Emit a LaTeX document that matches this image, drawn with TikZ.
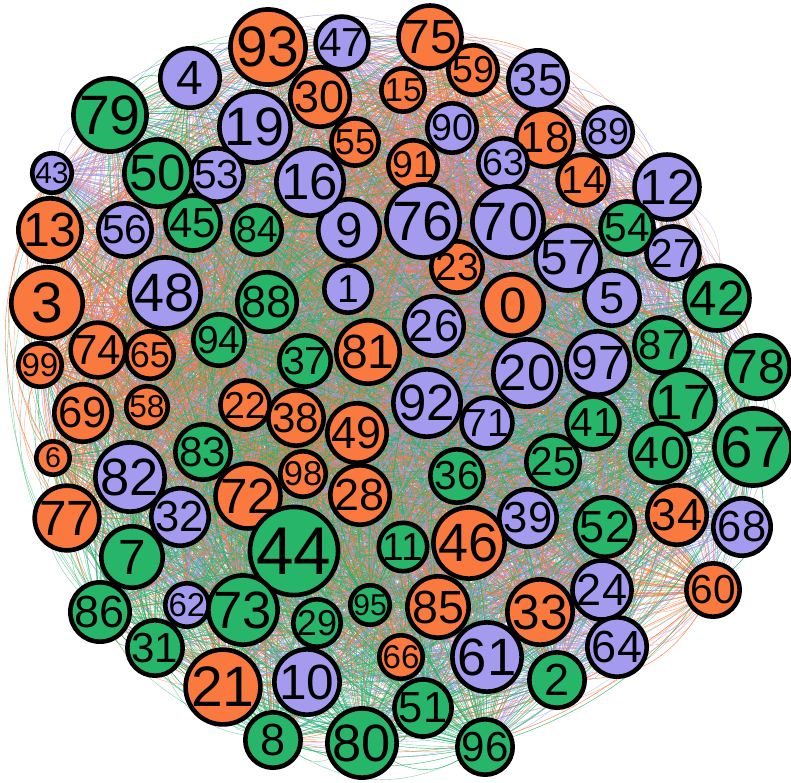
\documentclass[tikz,border=0pt]{standalone}
\usepackage{fontspec}
\setmainfont{Liberation Sans}
\usetikzlibrary{backgrounds}

\definecolor{vorange}{RGB}{249,121,63}
\definecolor{vpurple}{RGB}{164,154,238}
\definecolor{vgreen}{RGB}{39,181,105}

\newcommand{\nodefont}[1]{\fontsize{\fpeval{1.5*#1}}{\fpeval{1.5*#1}}\selectfont}

\begin{document}
\begin{tikzpicture}[x=1pt, y=-1pt,
    vtx/.style={circle, draw=black, line width=4.6pt, inner sep=0pt, minimum size=2*#1pt-4.6pt, font=\nodefont{#1}},
    ora/.style={fill=vorange}, pur/.style={fill=vpurple}, grn/.style={fill=vgreen},
    edg/.style={line width=0.42pt, opacity=0.58}]

    \useasboundingbox (0,0) rectangle (791,782);

    % orange vertices
    \node[vtx=33, ora] (n0) at (513,305) {0};
    \node[vtx=38, ora] (n3) at (47,303) {3};
    \node[vtx=19, ora] (n6) at (53,458) {6};
    \node[vtx=32, ora] (n13) at (50,230) {13};
    \node[vtx=26, ora] (n14) at (583,180) {14};
    \node[vtx=22, ora] (n15) at (403,90) {15};
    \node[vtx=29, ora] (n18) at (545,138) {18};
    \node[vtx=38, ora] (n21) at (223,687) {21};
    \node[vtx=25, ora] (n22) at (245,405) {22};
    \node[vtx=26, ora] (n23) at (457,267) {23};
    \node[vtx=30, ora] (n28) at (360,495) {28};
    \node[vtx=30, ora] (n30) at (320,97) {30};
    \node[vtx=33, ora] (n33) at (540,612) {33};
    \node[vtx=30, ora] (n34) at (677,515) {34};
    \node[vtx=28, ora] (n38) at (296,418) {38};
    \node[vtx=36, ora] (n46) at (469,543) {46};
    \node[vtx=30, ora] (n49) at (357,433) {49};
    \node[vtx=24, ora] (n55) at (355,142) {55};
    \node[vtx=21, ora] (n58) at (147,407) {58};
    \node[vtx=25, ora] (n59) at (473,70) {59};
    \node[vtx=27, ora] (n60) at (713,590) {60};
    \node[vtx=24, ora] (n65) at (150,355) {65};
    \node[vtx=22, ora] (n66) at (401,657) {66};
    \node[vtx=29, ora] (n69) at (83,413) {69};
    \node[vtx=33, ora] (n72) at (248,496) {72};
    \node[vtx=28, ora] (n74) at (98,350) {74};
    \node[vtx=32, ora] (n75) at (430,37) {75};
    \node[vtx=33, ora] (n77) at (67,518) {77};
    \node[vtx=32, ora] (n81) at (368,352) {81};
    \node[vtx=31, ora] (n85) at (438,607) {85};
    \node[vtx=25, ora] (n91) at (413,165) {91};
    \node[vtx=38, ora] (n93) at (268,47) {93};
    \node[vtx=23, ora] (n98) at (303,474) {98};
    \node[vtx=22, ora] (n99) at (40,365) {99};

    % purple vertices
    \node[vtx=26, pur] (n1) at (348,289) {1};
    \node[vtx=32, pur] (n4) at (190,78) {4};
    \node[vtx=30, pur] (n5) at (612,298) {5};
    \node[vtx=33, pur] (n9) at (349,230) {9};
    \node[vtx=33, pur] (n10) at (307,682) {10};
    \node[vtx=33, pur] (n12) at (667,187) {12};
    \node[vtx=34, pur] (n16) at (310,182) {16};
    \node[vtx=36, pur] (n19) at (255,127) {19};
    \node[vtx=34, pur] (n20) at (527,373) {20};
    \node[vtx=30, pur] (n24) at (602,590) {24};
    \node[vtx=30, pur] (n26) at (434,326) {26};
    \node[vtx=27, pur] (n27) at (673,253) {27};
    \node[vtx=29, pur] (n32) at (180,517) {32};
    \node[vtx=30, pur] (n35) at (538,80) {35};
    \node[vtx=29, pur] (n39) at (528,518) {39};
    \node[vtx=20, pur] (n43) at (52,173) {43};
    \node[vtx=27, pur] (n47) at (342,43) {47};
    \node[vtx=36, pur] (n48) at (165,293) {48};
    \node[vtx=27, pur] (n53) at (217,175) {53};
    \node[vtx=27, pur] (n56) at (125,230) {56};
    \node[vtx=33, pur] (n57) at (568,258) {57};
    \node[vtx=35, pur] (n61) at (487,657) {61};
    \node[vtx=22, pur] (n62) at (187,605) {62};
    \node[vtx=25, pur] (n63) at (503,163) {63};
    \node[vtx=30, pur] (n64) at (617,647) {64};
    \node[vtx=29, pur] (n68) at (742,527) {68};
    \node[vtx=36, pur] (n70) at (508,222) {70};
    \node[vtx=26, pur] (n71) at (487,423) {71};
    \node[vtx=37, pur] (n76) at (423,221) {76};
    \node[vtx=35, pur] (n82) at (130,477) {82};
    \node[vtx=25, pur] (n89) at (608,132) {89};
    \node[vtx=25, pur] (n90) at (452,128) {90};
    \node[vtx=34, pur] (n92) at (427,403) {92};
    \node[vtx=32, pur] (n97) at (598,363) {97};

    % green vertices
    \node[vtx=30, grn] (n2) at (557,680) {2};
    \node[vtx=33, grn] (n7) at (132,557) {7};
    \node[vtx=30, grn] (n8) at (273,740) {8};
    \node[vtx=26, grn] (n11) at (403,547) {11};
    \node[vtx=33, grn] (n17) at (683,402) {17};
    \node[vtx=27, grn] (n25) at (553,462) {25};
    \node[vtx=24, grn] (n29) at (317,623) {29};
    \node[vtx=28, grn] (n31) at (155,648) {31};
    \node[vtx=27, grn] (n36) at (457,476) {36};
    \node[vtx=26, grn] (n37) at (305,361) {37};
    \node[vtx=30, grn] (n40) at (660,453) {40};
    \node[vtx=27, grn] (n41) at (593,423) {41};
    \node[vtx=33, grn] (n42) at (717,298) {42};
    \node[vtx=45, grn] (n44) at (294,551) {44};
    \node[vtx=28, grn] (n45) at (193,223) {45};
    \node[vtx=34, grn] (n50) at (158,173) {50};
    \node[vtx=29, grn] (n51) at (423,708) {51};
    \node[vtx=30, grn] (n52) at (605,527) {52};
    \node[vtx=27, grn] (n54) at (627,228) {54};
    \node[vtx=39, grn] (n67) at (753,447) {67};
    \node[vtx=35, grn] (n73) at (243,610) {73};
    \node[vtx=32, grn] (n78) at (758,367) {78};
    \node[vtx=37, grn] (n79) at (110,115) {79};
    \node[vtx=35, grn] (n80) at (362,743) {80};
    \node[vtx=28, grn] (n83) at (203,452) {83};
    \node[vtx=25, grn] (n84) at (257,230) {84};
    \node[vtx=30, grn] (n86) at (100,612) {86};
    \node[vtx=28, grn] (n87) at (662,345) {87};
    \node[vtx=30, grn] (n88) at (267,302) {88};
    \node[vtx=26, grn] (n94) at (219,340) {94};
    \node[vtx=20, grn] (n95) at (370,605) {95};
    \node[vtx=28, grn] (n96) at (485,747) {96};

    % edges, coloured by their source vertex
    \pgfmathsetseed{4217}
    \begin{scope}[on background layer]
        \foreach \i/\c in {0/vorange,1/vpurple,2/vgreen,3/vorange,4/vpurple,5/vpurple,6/vorange,7/vgreen,8/vgreen,9/vpurple,
                           10/vpurple,11/vgreen,12/vpurple,13/vorange,14/vorange,15/vorange,16/vpurple,17/vgreen,18/vorange,19/vpurple,
                           20/vpurple,21/vorange,22/vorange,23/vorange,24/vpurple,25/vgreen,26/vpurple,27/vpurple,28/vorange,29/vgreen,
                           30/vorange,31/vgreen,32/vpurple,33/vorange,34/vorange,35/vpurple,36/vgreen,37/vgreen,38/vorange,39/vpurple,
                           40/vgreen,41/vgreen,42/vgreen,43/vpurple,44/vgreen,45/vgreen,46/vorange,47/vpurple,48/vpurple,49/vorange,
                           50/vgreen,51/vgreen,52/vgreen,53/vpurple,54/vgreen,55/vorange,56/vpurple,57/vpurple,58/vorange,59/vorange,
                           60/vorange,61/vpurple,62/vpurple,63/vpurple,64/vpurple,65/vorange,66/vorange,67/vgreen,68/vpurple,69/vorange,
                           70/vpurple,71/vpurple,72/vorange,73/vgreen,74/vorange,75/vorange,76/vpurple,77/vorange,78/vgreen,79/vgreen,
                           80/vgreen,81/vorange,82/vpurple,83/vgreen,84/vgreen,85/vorange,86/vgreen,87/vgreen,88/vgreen,89/vpurple,
                           90/vpurple,91/vorange,92/vpurple,93/vorange,94/vgreen,95/vgreen,96/vgreen,97/vpurple,98/vorange,99/vorange}
            \foreach \k in {1,...,88} {
                \pgfmathrandominteger{\j}{0}{99}
                \ifnum\j=\i\else \draw[edg, \c] (n\i) to[bend left=28] (n\j); \fi
            }
    \end{scope}
\end{tikzpicture}
\end{document}
